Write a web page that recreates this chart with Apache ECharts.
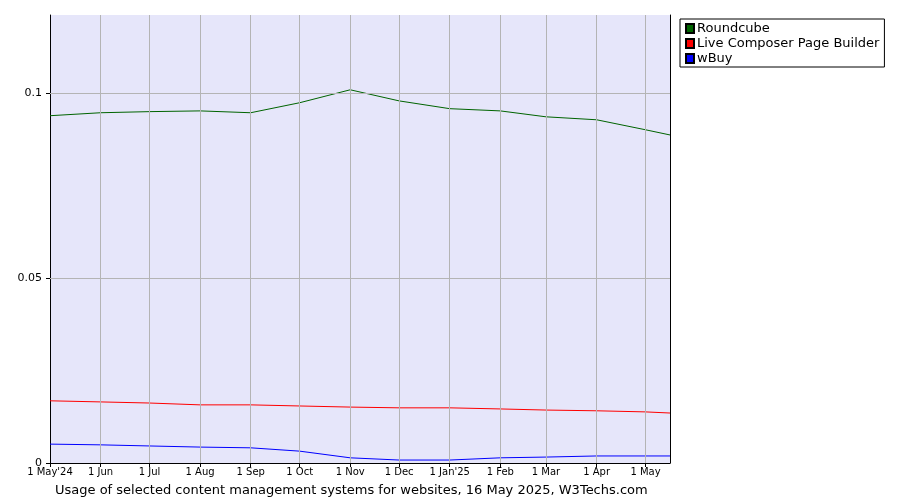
<!DOCTYPE html>
<html><head><meta charset="utf-8">
<script src="https://cdn.jsdelivr.net/npm/echarts@6/dist/echarts.min.js"></script>
<style>html,body{margin:0;padding:0;background:#fff}#c{width:900px;height:500px}</style>
</head><body><div id="c"></div>
<script>
const dates = ["2024-05-01","2024-06-01","2024-07-01","2024-08-01","2024-09-01","2024-10-01","2024-11-01","2024-12-01","2025-01-01","2025-02-01","2025-03-01","2025-04-01","2025-05-01","2025-05-16"];
const tickDates = ["2024-05-01","2024-06-01","2024-07-01","2024-08-01","2024-09-01","2024-10-01","2024-11-01","2024-12-01","2025-01-01","2025-02-01","2025-03-01","2025-04-01","2025-05-01"];
const tickLabels = ["1 May'24","1 Jun","1 Jul","1 Aug","1 Sep","1 Oct","1 Nov","1 Dec","1 Jan'25","1 Feb","1 Mar","1 Apr","1 May"];
const roundcube = [0.0938,0.0946,0.0949,0.0951,0.0946,0.0973,0.1008,0.0978,0.0957,0.0951,0.0935,0.0927,0.0900,0.0886];
const liveComposer = [0.0168,0.0165,0.0162,0.0157,0.0157,0.0154,0.0151,0.0149,0.0149,0.0146,0.0143,0.0141,0.0138,0.0135];
const wbuy = [0.0051,0.0049,0.0046,0.0043,0.0041,0.0032,0.0014,0.0008,0.0008,0.0014,0.0016,0.0019,0.0019,0.0019];
const t0 = Date.parse(dates[0]);
const day = d => Math.round((Date.parse(d) - t0) / 86400000);
const xs = dates.map(day);
const ticks = tickDates.map(day);
const labelMap = {}; ticks.forEach((t,i)=>labelMap[t]=tickLabels[i]);
const font = "DejaVu Sans";
const mk = (name, vals, color, extra) => Object.assign({
  name, type:'line', data: xs.map((x,i)=>[x, vals[i]]), symbol:'none',
  lineStyle:{color, width:1}, itemStyle:{color, borderColor:'#000', borderWidth:1}, animation:false
}, extra||{});
const chart = echarts.init(document.getElementById('c'));
chart.setOption({
  animation:false,
  textStyle:{fontFamily:font},
  grid:{left:50, right:230, top:15, bottom:37, show:true, backgroundColor:'#e6e6fa', borderWidth:0},
  legend:{left:680, top:19, orient:'vertical', icon:'rect', itemWidth:8, itemHeight:9, itemGap:2,
    borderColor:'#000', borderWidth:1, padding:[3,5,2,5], textStyle:{fontFamily:font, fontSize:13, color:'#000', padding:[0,0,0,-2]},
    data:['Roundcube','Live Composer Page Builder','wBuy']},
  title:{text:'Usage of selected content management systems for websites, 16 May 2025, W3Techs.com', left:50, top:479,
    textStyle:{fontFamily:font, fontSize:13, fontWeight:'normal', color:'#000'}},
  xAxis:{type:'value', min:0, max:xs[xs.length-1],
    axisLine:{show:true, lineStyle:{color:'#000'}}, splitLine:{show:false},
    axisTick:{show:true, customValues:ticks, length:4, lineStyle:{color:'#000'}},
    axisLabel:{customValues:ticks, formatter:v=>labelMap[v]||'', fontSize:10, color:'#000', fontFamily:font, margin:4}},
  yAxis:[{type:'value', min:0, max:0.121, 
    axisLine:{show:true, lineStyle:{color:'#000'}}, axisTick:{show:true, customValues:[0,0.05,0.1], length:4, lineStyle:{color:'#000'}},
    axisLabel:{customValues:[0,0.05,0.1], formatter:v=>String(v), fontSize:11, color:'#000', fontFamily:font},
    splitLine:{show:false}},
    {type:'value', position:'right', min:0, max:0.121, axisLine:{show:true, lineStyle:{color:'#000'}}, axisTick:{show:false}, axisLabel:{show:false}, splitLine:{show:false}}],
  series:[
    {type:'line', data:[], silent:true, markLine:{silent:true, symbol:'none', label:{show:false}, animation:false,
      lineStyle:{color:'#b4b4b4', type:'solid', width:1},
      data: ticks.slice(1).map(t=>({xAxis:t})).concat([{yAxis:0.05},{yAxis:0.1}])}},
    mk('Roundcube', roundcube, '#006400', {itemStyle:{color:'#006400', borderColor:'#000', borderWidth:1}}),
    mk('Live Composer Page Builder', liveComposer, '#ff0000'),
    mk('wBuy', wbuy, '#0000ff')
  ]
});
</script></body></html>
